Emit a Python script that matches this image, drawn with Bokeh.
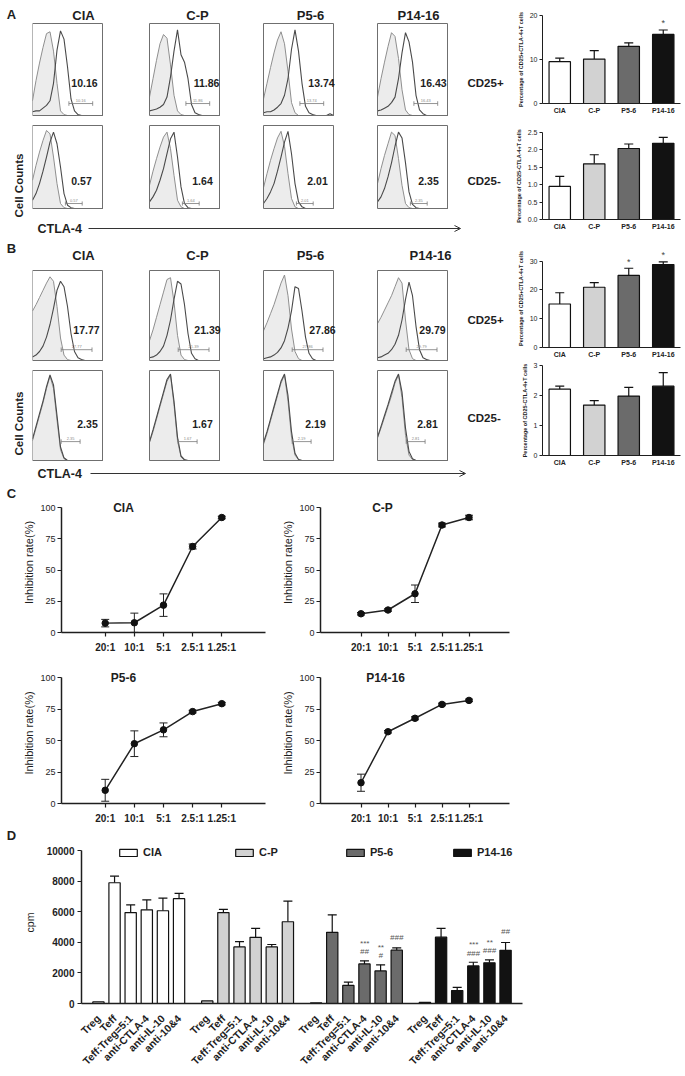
import math
from bokeh.plotting import figure
from bokeh.layouts import row, column
from bokeh.models import (Label, Range1d, FactorRange, Whisker, TeeHead, ColumnDataSource,
                          Arrow, OpenHead, Spacer, FixedTicker, Legend, LegendItem,
                          PrintfTickFormatter)
from bokeh.embed import file_html
from bokeh.resources import INLINE
from bokeh.core.properties import value

FONT = "Liberation Sans"
INK = "#1e1e1e"

# ---------------- data ----------------
GROUPS = ["CIA", "C-P", "P5-6", "P14-16"]
GROUP_COLORS = ["#ffffff", "#d2d2d2", "#6b6b6b", "#121212"]

# flow channel (percent of the log axis)
CHANNEL = [0, 5, 10, 15, 20, 25, 30, 35, 40, 45, 50, 55, 60, 65, 70, 75, 80, 85, 90, 95, 100]

# Panel A, CD25+ (isotype / CTLA-4), counts as % of max
A1_ISO = [
    [16, 38, 57, 74, 89, 91, 70, 35, 5, 1, 0, 0, 0, 0, 0, 0, 0, 0, 0, 0, 0],
    [20, 40, 60, 78, 88, 84, 55, 22, 5, 1, 0, 0, 0, 0, 0, 0, 0, 0, 0, 0, 0],
    [18, 35, 52, 68, 82, 91, 78, 48, 14, 3, 0, 0, 0, 0, 0, 0, 0, 0, 0, 0, 0],
    [20, 40, 58, 75, 90, 86, 62, 28, 6, 1, 0, 0, 0, 0, 0, 0, 0, 0, 0, 0, 0],
]
A1_CTLA = [
    [4, 5, 5, 8, 11, 16, 35, 71, 92, 83, 53, 18, 5, 1, 0, 0, 0, 0, 0, 0, 0],
    [5, 6, 7, 9, 12, 20, 42, 70, 93, 66, 58, 40, 12, 3, 1, 0, 0, 0, 0, 0, 0],
    [3, 4, 4, 6, 9, 13, 22, 40, 72, 93, 70, 35, 10, 3, 1, 0, 0, 0, 0, 2, 0],
    [5, 6, 8, 10, 14, 20, 40, 68, 90, 80, 58, 22, 6, 2, 0, 0, 0, 0, 0, 0, 0],
]
A1_VALUES = ["10.16", "11.86", "13.74", "16.43"]

# Panel A, CD25-
A2_ISO = [
    [34, 52, 68, 82, 94, 90, 62, 30, 6, 1, 0, 0, 0, 0, 0, 0, 0, 0, 0, 0, 0],
    [28, 45, 60, 74, 86, 92, 72, 40, 10, 2, 0, 0, 0, 0, 0, 0, 0, 0, 0, 0, 0],
    [25, 42, 58, 72, 85, 93, 75, 42, 12, 2, 0, 0, 0, 0, 0, 0, 0, 0, 0, 0, 0],
    [30, 48, 64, 78, 92, 88, 60, 28, 6, 1, 0, 0, 0, 0, 0, 0, 0, 0, 0, 0, 0],
]
A2_CTLA = [
    [10, 18, 30, 45, 62, 80, 92, 78, 50, 18, 4, 1, 0, 0, 0, 0, 0, 0, 0, 0, 0],
    [8, 14, 22, 34, 48, 66, 84, 92, 62, 26, 6, 1, 0, 0, 0, 0, 0, 0, 0, 0, 0],
    [6, 12, 20, 30, 45, 62, 80, 93, 66, 30, 8, 2, 0, 0, 0, 0, 0, 0, 0, 0, 0],
    [8, 14, 24, 38, 55, 75, 92, 85, 55, 20, 5, 1, 0, 0, 0, 0, 0, 0, 0, 0, 0],
]
A2_VALUES = ["0.57", "1.64", "2.01", "2.35"]

# Panel B, CD25+
B1_ISO = [
    [55, 62, 70, 78, 86, 93, 88, 60, 25, 6, 1, 0, 0, 0, 0, 0, 0, 0, 0, 0, 0],
    [22, 34, 48, 62, 76, 90, 92, 65, 28, 6, 1, 0, 0, 0, 0, 0, 0, 0, 0, 0, 0],
    [33, 42, 52, 62, 74, 86, 95, 72, 35, 10, 2, 0, 0, 0, 0, 0, 0, 0, 0, 0, 0],
    [41, 48, 56, 64, 72, 82, 92, 86, 45, 12, 2, 0, 0, 0, 0, 0, 0, 0, 0, 0, 0],
]
B1_CTLA = [
    [4, 6, 10, 16, 26, 40, 58, 78, 88, 82, 60, 30, 10, 3, 1, 0, 0, 0, 0, 0, 0],
    [3, 4, 6, 10, 16, 28, 45, 68, 88, 85, 62, 30, 8, 2, 0, 0, 0, 0, 0, 0, 0],
    [2, 3, 4, 6, 9, 14, 22, 36, 55, 82, 80, 55, 26, 8, 2, 0, 0, 0, 0, 0, 0],
    [3, 4, 6, 8, 12, 18, 28, 45, 68, 87, 72, 38, 12, 3, 1, 0, 0, 0, 0, 0, 0],
]
B1_VALUES = ["17.77", "21.39", "27.86", "29.79"]

# Panel B, CD25-
B2_ISO = [
    [22, 36, 50, 64, 80, 94, 80, 45, 12, 2, 0, 0, 0, 0, 0, 0, 0, 0, 0, 0, 0],
    [20, 32, 46, 60, 74, 88, 95, 62, 22, 4, 0, 0, 0, 0, 0, 0, 0, 0, 0, 0, 0],
    [18, 30, 44, 58, 72, 86, 95, 66, 26, 6, 1, 0, 0, 0, 0, 0, 0, 0, 0, 0, 0],
    [25, 36, 48, 60, 72, 86, 95, 70, 28, 6, 1, 0, 0, 0, 0, 0, 0, 0, 0, 0, 0],
]
B2_CTLA = [
    [24, 38, 52, 66, 82, 95, 84, 50, 15, 3, 0, 0, 0, 0, 0, 0, 0, 0, 0, 0, 0],
    [21, 34, 48, 62, 76, 90, 96, 66, 26, 5, 1, 0, 0, 0, 0, 0, 0, 0, 0, 0, 0],
    [20, 32, 46, 60, 74, 88, 96, 72, 32, 8, 1, 0, 0, 0, 0, 0, 0, 0, 0, 0, 0],
    [26, 38, 50, 62, 75, 88, 96, 76, 36, 10, 2, 0, 0, 0, 0, 0, 0, 0, 0, 0, 0],
]
B2_VALUES = ["2.35", "1.67", "2.19", "2.81"]

# summary bar charts (mean, top of error bar)
A_POS_MEAN = [9.5, 10.1, 13.0, 15.7]
A_POS_TOP = [10.3, 12.0, 13.8, 16.7]
A_POS_STARS = ["", "", "", "*"]
A_NEG_MEAN = [0.95, 1.60, 2.04, 2.19]
A_NEG_TOP = [1.24, 1.86, 2.17, 2.36]
B_POS_MEAN = [15.1, 20.9, 25.0, 28.8]
B_POS_TOP = [19.0, 22.5, 27.5, 29.7]
B_POS_STARS = ["", "", "*", "*"]
B_NEG_MEAN = [2.21, 1.68, 1.98, 2.31]
B_NEG_TOP = [2.31, 1.83, 2.27, 2.76]

# Panel C, inhibition rate (%)
RATIOS = ["20:1", "10:1", "5:1", "2.5:1", "1.25:1"]
C_CIA_MEAN = [7.5, 7.8, 21.9, 68.8, 92.0]
C_CIA_SD = [3.0, 7.7, 9.0, 2.0, 1.0]
C_CP_MEAN = [15.0, 18.0, 31.0, 86.0, 92.0]
C_CP_SD = [1.0, 1.0, 7.0, 1.5, 1.8]
C_P56_MEAN = [10.5, 47.5, 58.5, 73.0, 79.3]
C_P56_SD = [8.7, 10.2, 5.5, 1.0, 1.0]
C_P1416_MEAN = [16.5, 57.0, 67.7, 78.7, 81.9]
C_P1416_SD = [6.8, 1.0, 1.2, 1.0, 1.0]

# Panel D, cpm
CONDITIONS = ["Treg", "Teff", "Teff:Treg=5:1", "anti-CTLA-4", "anti-IL-10", "anti-10&4"]
D_CIA_MEAN = [100, 7900, 5950, 6130, 6070, 6860]
D_CIA_SD = [0, 430, 500, 650, 830, 340]
D_CP_MEAN = [170, 5950, 3700, 4330, 3700, 5350]
D_CP_SD = [0, 210, 350, 590, 160, 1350]
D_P56_MEAN = [40, 4660, 1180, 2590, 2130, 3490]
D_P56_SD = [0, 1140, 220, 200, 400, 150]
D_P1416_MEAN = [80, 4340, 850, 2460, 2660, 3480]
D_P1416_SD = [0, 580, 200, 240, 190, 510]
D_P56_STARS = ["", "", "", "***", "**", ""]
D_P56_HASH = ["", "", "", "##", "#", "###"]
D_P1416_STARS = ["", "", "", "***", "**", ""]
D_P1416_HASH = ["", "", "", "###", "###", "##"]


# ---------------- helpers ----------------
def base_fig(width, height, bl, br, bt, bb, xr, yr, axes=True):
    kw = {}
    if not axes:
        kw = dict(x_axis_location=None, y_axis_location=None)
    p = figure(width=width, height=height, x_range=xr, y_range=yr,
               output_backend="svg", toolbar_location=None, title=None,
               min_border_left=bl, min_border_right=br,
               min_border_top=bt, min_border_bottom=bb, **kw)
    p.grid.visible = False
    p.outline_line_color = None
    p.background_fill_color = "white"
    p.border_fill_color = "white"
    return p


def lab(p, x, y, text, size, bold=True, align="center", baseline="middle",
        angle=0, color=INK, units="screen", y_units=None):
    style = "bold" if bold else "normal"
    p.add_layout(Label(x=x, y=y, x_units=units, y_units=y_units or units, text=text,
                       text_font=FONT, text_font_size=size, text_font_style=style,
                       text_align=align, text_baseline=baseline, angle=angle,
                       text_color=color))


def text_fig(w, h, items):
    """Text-only strip; items are (x from left, y from top, text, size, angle)."""
    p = base_fig(w, h, 0, 0, 0, 0, Range1d(0, 1), Range1d(0, 1), axes=False)
    for x, y, t, s, a in items:
        lab(p, x, h - y, t, s, angle=a)
    return p


# histogram cells: canvas widths and box offsets (box is 70 px wide)
HIST_W = [93, 115, 115, 150]
HIST_OX = [0, 24, 23, 22]
BOX_W = 70


def hist_row(isos, ctlas, values, H, oy, fh, num_pos, gate, side_label, side_y,
             title_x=None, title_y=None):
    figs = []
    for i in range(4):
        w, ox = HIST_W[i], HIST_OX[i]
        sx = BOX_W / 100.0
        sy = fh / 100.0
        xr = Range1d(-ox / sx, (w - ox) / sx)
        yr = Range1d(-(H - oy - fh) / sy, 100 + oy / sy)
        p = base_fig(w, H, 0, 0, 0, 0, xr, yr, axes=False)
        p.varea(x=CHANNEL, y1=0, y2=isos[i], fill_color="#ececec")
        p.line(CHANNEL, isos[i], line_color="#8f8f8f", line_width=1)
        p.line(CHANNEL, ctlas[i], line_color="#4a4a4a", line_width=1.1)
        p.quad(left=[0], right=[100], bottom=[0], top=[100], fill_color=None,
               line_color="#6f6f6f", line_width=1)
        g0, g1, gy = gate
        p.segment(x0=[g0], y0=[gy], x1=[g1], y1=[gy], line_color="#7a7a7a", line_width=0.8)
        p.segment(x0=[g0, g1], y0=[gy - 2.5, gy - 2.5], x1=[g0, g1], y1=[gy + 2.5, gy + 2.5],
                  line_color="#7a7a7a", line_width=0.8)
        lab(p, (g0 + g1) / 2, gy + 1.5, values[i], "4px", bold=False,
            baseline="bottom", color="#8a8a8a", units="data")
        lab(p, num_pos[i][0], H - num_pos[i][1], values[i], "10.5px")
        if title_x is not None:
            lab(p, title_x[i], H - title_y, GROUPS[i], "13px")
        if i == 3:
            lab(p, 112, H - side_y, side_label, "11.5px", align="left")
        figs.append(p)
    return row(*figs)


def strip(height, label_y, x0, x1):
    p = base_fig(473, height, 0, 0, 0, 0, Range1d(0, 1), Range1d(0, 1), axes=False)
    lab(p, 5, label_y, "CTLA-4", "12.5px", align="left")
    p.add_layout(Arrow(end=OpenHead(size=6, line_width=1, line_color="#333333"),
                       x_start=x0, y_start=label_y, x_end=x1, y_end=label_y,
                       start_units="screen", end_units="screen",
                       line_width=1, line_color="#333333"))
    return p


def style_axes(p, tick_size, xsize, ylabel=None, ylabel_size="6px", ystand=3):
    for ax in p.axis:
        ax.axis_line_color = INK
        ax.axis_line_width = 1
        ax.major_tick_line_color = INK
        ax.minor_tick_line_color = None
        ax.major_label_text_font = FONT
        ax.major_label_text_color = INK
    p.yaxis.major_label_text_font_size = tick_size
    p.yaxis.major_tick_out = 3
    p.yaxis.major_tick_in = 0
    p.yaxis.major_label_standoff = 2
    p.xaxis.major_label_text_font_size = xsize
    p.xaxis.major_label_text_font_style = "bold"
    if ylabel:
        p.yaxis.axis_label = ylabel
        p.yaxis.axis_label_text_font = FONT
        p.yaxis.axis_label_text_font_size = ylabel_size
        p.yaxis.axis_label_text_font_style = "bold"
        p.yaxis.axis_label_text_color = INK
        p.yaxis.axis_label_standoff = ystand


def small_bar(height, bt, bb, means, tops, yend, ymax, ticks, ylabel, stars=None,
              star_off=0, fmt=None):
    p = base_fig(180, height, 37, 5, bt, bb, FactorRange(*GROUPS), Range1d(0, yend))
    src = ColumnDataSource(dict(g=GROUPS, m=means, t=tops, c=GROUP_COLORS,
                                s=stars if stars else [""] * 4,
                                sy=[t + star_off for t in tops]))
    p.vbar(x="g", top="m", width=0.62, fill_color="c", line_color="#111111",
           line_width=1.2, source=src)
    p.add_layout(Whisker(base="g", upper="t", lower="m", source=src,
                         upper_head=TeeHead(size=9, line_width=1.2, line_color="#111111"),
                         lower_head=None, line_width=1.2, line_color="#111111"))
    if stars:
        p.text(x="g", y="sy", text="s", source=src, text_font=value(FONT),
               text_font_size="9px", text_color="#444444", text_align="center",
               text_baseline="middle")
    style_axes(p, "7px", "7px", ylabel=ylabel, ylabel_size="5.5px", ystand=3)
    p.yaxis.ticker = FixedTicker(ticks=ticks)
    p.yaxis.bounds = (0, ymax)
    if fmt:
        p.yaxis.formatter = PrintfTickFormatter(format=fmt)
    p.xaxis.major_tick_line_color = None
    p.xaxis.major_tick_out = 0
    p.xaxis.major_label_standoff = 3
    return p


def line_fig(width, bl, bt, fh, bb, means, sds, title, title_x):
    p = base_fig(width, bt + fh + bb, bl, 10, bt, bb,
                 FactorRange(*RATIOS, range_padding=1, range_padding_units="absolute"),
                 Range1d(0, 112))
    src = ColumnDataSource(dict(r=RATIOS, m=means,
                                lo=[m - s for m, s in zip(means, sds)],
                                hi=[m + s for m, s in zip(means, sds)]))
    p.add_layout(Whisker(base="r", upper="hi", lower="lo", source=src,
                         upper_head=TeeHead(size=8, line_width=1, line_color="#222222"),
                         lower_head=TeeHead(size=8, line_width=1, line_color="#222222"),
                         line_width=1, line_color="#222222"))
    p.line("r", "m", source=src, line_color="#222222", line_width=1.5)
    p.scatter("r", "m", source=src, size=6.5, color="#111111")
    style_axes(p, "9px", "10px", ylabel="Inhibition rate(%)", ylabel_size="11px", ystand=2)
    p.yaxis.axis_label_text_font_style = "normal"
    p.yaxis.ticker = FixedTicker(ticks=[0, 25, 50, 75, 100])
    p.yaxis.bounds = (0, 100)
    p.yaxis.major_tick_out = 4
    p.xaxis.major_tick_out = 4
    p.xaxis.major_tick_in = 0
    p.xaxis.major_label_standoff = 5
    for ax in p.axis:
        ax.axis_line_width = 1.5
        ax.major_tick_line_width = 1.2
    lab(p, title_x, 100, title, "12px", units="screen", y_units="data")
    return p


# ---------------- panel A (y 0..238) ----------------
a_left = text_fig(32, 238, [(11, 14, "A", "13px", 0),
                            (18, 185, "Cell Counts", "11.5px", math.pi / 2)])
a1 = hist_row(A1_ISO, A1_CTLA, A1_VALUES, 120, 23, 92,
              [(52, 82), (81, 82), (81, 82), (78, 82)], (52, 86, 13), "CD25+", 82,
              title_x=[51, 72, 70, 63], title_y=15)
a2 = hist_row(A2_ISO, A2_CTLA, A2_VALUES, 98, 5, 83,
              [(49, 60), (77, 60), (77, 60), (73, 60)], (47, 71, 6), "CD25-", 60)
a_strip = strip(20, 10, 56, 428)
a_bar1 = small_bar(125, 15, 22, A_POS_MEAN, A_POS_TOP, 20, 20, [0, 10, 20],
                   "Percentage of CD25+CTLA-4+T cells", A_POS_STARS, 1.7)
a_bar2 = small_bar(113, 7, 19, A_NEG_MEAN, A_NEG_TOP, 2.5, 2.5, [0, 0.5, 1.0, 1.5, 2.0, 2.5],
                   "Percentage of CD25-CTLA-4+T cells", fmt="%.1f")
secA = row(column(a_left), column(a1, a2, a_strip), column(a_bar1, a_bar2))

# ---------------- panel B (y 238..486) ----------------
b_left = text_fig(32, 248, [(11, 10, "B", "13px", 0),
                            (18, 185, "Cell Counts", "11.5px", math.pi / 2)])
b1 = hist_row(B1_ISO, B1_CTLA, B1_VALUES, 127, 32, 90,
              [(54, 91), (82, 91), (82, 91), (77, 91)], (41, 85, 12), "CD25+", 81,
              title_x=[51, 72, 70, 75], title_y=17)
b2 = hist_row(B2_ISO, B2_CTLA, B2_VALUES, 101, 5, 90,
              [(55, 58), (77, 58), (75, 58), (72, 58)], (41, 68, 21), "CD25-", 52)
b_strip = strip(20, 13, 58, 433)
b_bar1 = small_bar(122, 11, 12, B_POS_MEAN, B_POS_TOP, 34, 30, [0, 10, 20, 30],
                   "Percentage of CD25+CTLA-4+T cells", B_POS_STARS, 2.3)
b_bar2 = small_bar(126, 5, 31, B_NEG_MEAN, B_NEG_TOP, 3, 3, [0, 1, 2, 3],
                   "Percentage of CD25-CTLA-4+T cells")
secB = row(column(b_left), column(b1, b2, b_strip), column(b_bar1, b_bar2))

# ---------------- panel C (y 486..826) ----------------
c_left = text_fig(20, 340, [(11, 7, "C", "13px", 0)])
c1 = line_fig(255, 41, 6, 140, 28, C_CIA_MEAN, C_CIA_SD, "CIA", 62)
c3 = line_fig(255, 41, 2, 141, 23, C_P56_MEAN, C_P56_SD, "P5-6", 62)
c2 = line_fig(244, 45, 6, 140, 28, C_CP_MEAN, C_CP_SD, "C-P", 62)
c4 = line_fig(244, 45, 2, 141, 23, C_P1416_MEAN, C_P1416_SD, "P14-16", 65)
secC = row(column(c_left), column(c1, c3), column(c2, c4), Spacer(width=166, height=340))

# ---------------- panel D (y 826..1076) ----------------
d_left = text_fig(20, 250, [(11, 9, "D", "13px", 0)])
factors = [(g, c) for g in GROUPS for c in CONDITIONS]
pd_ = base_fig(665, 250, 57, 163, 15, 73,
               FactorRange(*factors, group_padding=0.75, range_padding=0.55,
                           range_padding_units="absolute"),
               Range1d(0, 10600))
D_MEANS = [D_CIA_MEAN, D_CP_MEAN, D_P56_MEAN, D_P1416_MEAN]
D_SDS = [D_CIA_SD, D_CP_SD, D_P56_SD, D_P1416_SD]
legend_x = [36, 152, 263, 370]
for gi, g in enumerate(GROUPS):
    xs = [(g, c) for c in CONDITIONS]
    src = ColumnDataSource(dict(x=xs, top=D_MEANS[gi]))
    r = pd_.vbar(x="x", top="top", width=0.7, fill_color=GROUP_COLORS[gi],
                 line_color="#111111", line_width=1.2, source=src)
    ex = [x for x, s in zip(xs, D_SDS[gi]) if s > 0]
    em = [m for m, s in zip(D_MEANS[gi], D_SDS[gi]) if s > 0]
    et = [m + s for m, s in zip(D_MEANS[gi], D_SDS[gi]) if s > 0]
    esrc = ColumnDataSource(dict(x=ex, m=em, t=et))
    pd_.add_layout(Whisker(base="x", upper="t", lower="m", source=esrc,
                           upper_head=TeeHead(size=9, line_width=1.2, line_color="#111111"),
                           lower_head=None, line_width=1.2, line_color="#111111"))
    leg = Legend(items=[LegendItem(label=g, renderers=[r])], location=(legend_x[gi], 145),
                 orientation="horizontal", border_line_color=None, background_fill_alpha=0,
                 padding=0, margin=0, spacing=0, glyph_width=22, glyph_height=9,
                 label_height=10, label_standoff=4, label_text_font=FONT,
                 label_text_font_size="11px", label_text_font_style="bold",
                 label_text_color=INK)
    pd_.add_layout(leg)

for g, stars, hashes, means, sds in [("P5-6", D_P56_STARS, D_P56_HASH, D_P56_MEAN, D_P56_SD),
                                     ("P14-16", D_P1416_STARS, D_P1416_HASH, D_P1416_MEAN, D_P1416_SD)]:
    tops = [m + s for m, s in zip(means, sds)]
    xs, ys, ts = [], [], []
    for c, st, hs, t in zip(CONDITIONS, stars, hashes, tops):
        if hs:
            xs.append((g, c)); ys.append(t + (600 if st else 700)); ts.append(hs)
        if st:
            xs.append((g, c)); ys.append(t + 1150); ts.append(st)
    pd_.text(x=xs, y=ys, text=ts, text_font=value(FONT), text_font_size="8px",
             text_font_style="italic", text_color="#555555", text_align="center",
             text_baseline="middle")

for ax in pd_.axis:
    ax.axis_line_color = INK
    ax.axis_line_width = 1.5
    ax.major_tick_line_color = INK
    ax.major_tick_line_width = 1.2
    ax.minor_tick_line_color = None
    ax.major_label_text_font = FONT
    ax.major_label_text_color = INK
    ax.major_label_text_font_style = "bold"
pd_.yaxis.ticker = FixedTicker(ticks=[0, 2000, 4000, 6000, 8000, 10000])
pd_.yaxis.bounds = (0, 10000)
pd_.yaxis.major_label_text_font_size = "10px"
pd_.yaxis.major_tick_out = 4
pd_.yaxis.major_tick_in = 0
pd_.yaxis.major_label_standoff = 3
pd_.yaxis.axis_label = "cpm"
pd_.yaxis.axis_label_text_font = FONT
pd_.yaxis.axis_label_text_font_size = "10.5px"
pd_.yaxis.axis_label_text_font_style = "normal"
pd_.yaxis.axis_label_text_color = INK
pd_.yaxis.axis_label_standoff = 8
pd_.xaxis.major_label_orientation = math.pi / 4
pd_.xaxis.major_label_text_font_size = "10.5px"
pd_.xaxis.major_tick_line_color = None
pd_.xaxis.major_tick_out = 0
pd_.xaxis.major_label_standoff = 13
pd_.xaxis.group_text_font_size = "1px"
pd_.xaxis.group_text_color = None
pd_.xaxis.separator_line_color = None
secD = row(column(d_left), column(pd_))

page = column(secA, secB, secC, secD)
open("out.html", "w").write(file_html(page, INLINE))
